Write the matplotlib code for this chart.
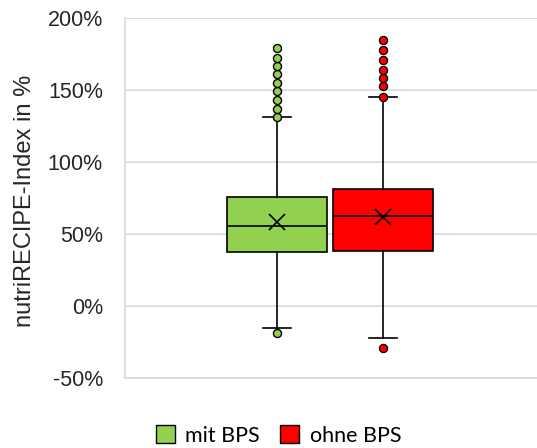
import matplotlib.pyplot as plt
from matplotlib.patches import Patch
from matplotlib.ticker import FuncFormatter

# values (percent)
groups = ["mit BPS", "ohne BPS"]
colors = ["#92d050", "#ff0000"]
q1 = [37.5, 38.5]
median = [55.5, 62.5]
q3 = [75.5, 81.0]
mean = [58.0, 62.0]
whislo = [-15.0, -22.0]
whishi = [131.0, 145.0]
fliers_mit = [-18.5, 131, 137, 143, 149, 155, 161, 167, 172, 179]
fliers_ohne = [-29.0, 145, 152.5, 158, 164, 171, 177.5, 184.5]
fliers = [fliers_mit, fliers_ohne]

plt.rcParams['font.family'] = ['Liberation Sans', 'DejaVu Sans']

fig = plt.figure(figsize=(5.37, 4.48), dpi=100)
ax = fig.add_axes([125 / 537, 1 - 378 / 448, 1 - 125 / 537, 360 / 448])

stats = []
for i in range(len(groups)):
    stats.append({'label': groups[i], 'q1': q1[i], 'med': median[i], 'q3': q3[i],
                  'mean': mean[i], 'whislo': whislo[i], 'whishi': whishi[i],
                  'fliers': fliers[i]})

positions = [1, 2]
for i in range(len(groups)):
    ax.bxp([stats[i]], positions=[positions[i]], widths=0.94, capwidths=0.27,
           patch_artist=True, showmeans=True, zorder=3,
           boxprops=dict(facecolor=colors[i], edgecolor='black', linewidth=1.2),
           medianprops=dict(color='black', linewidth=1.2),
           whiskerprops=dict(color='black', linewidth=1.2),
           capprops=dict(color='black', linewidth=1.2),
           meanprops=dict(marker='x', markersize=12, markeredgecolor='black',
                          markeredgewidth=1.2),
           flierprops=dict(marker='o', markersize=5.8, markerfacecolor=colors[i],
                           markeredgecolor='black', markeredgewidth=1.0))

ax.set_xlim(1 - 152 / 106, 2 + 154 / 106)
ax.set_ylim(-50, 200)
ax.set_yticks(range(-50, 201, 50))
ax.yaxis.set_major_formatter(FuncFormatter(lambda v, p: f"{int(v)}%"))
ax.set_xticks([])
ax.tick_params(axis='y', length=0, pad=16, labelcolor='#262626', labelsize=15.5)
ax.grid(axis='y', color='#d9d9d9', linewidth=1.2, zorder=0)
ax.set_axisbelow(True)
for side in ['top', 'right']:
    ax.spines[side].set_visible(False)
for side in ['left', 'bottom']:
    ax.spines[side].set_color('#d9d9d9')
    ax.spines[side].set_linewidth(1.2)

fig.text(25 / 537, 1 - 201 / 448, "nutriRECIPE-Index in %", rotation=90,
         ha='center', va='center', fontsize=17, color='#262626')

handles = [Patch(facecolor=colors[i], edgecolor='black', linewidth=1.0, label=groups[i])
           for i in range(len(groups))]
fig.legend(handles=handles, loc='center', bbox_to_anchor=(278.5 / 537, 1 - 435.5 / 448),
           ncol=2, frameon=False, prop={'family': 'Lato', 'size': 15.5},
           handlelength=0.88, handleheight=0.88, handletextpad=0.5, columnspacing=0.93,
           borderpad=0)

fig.savefig("out.png", dpi=100)
